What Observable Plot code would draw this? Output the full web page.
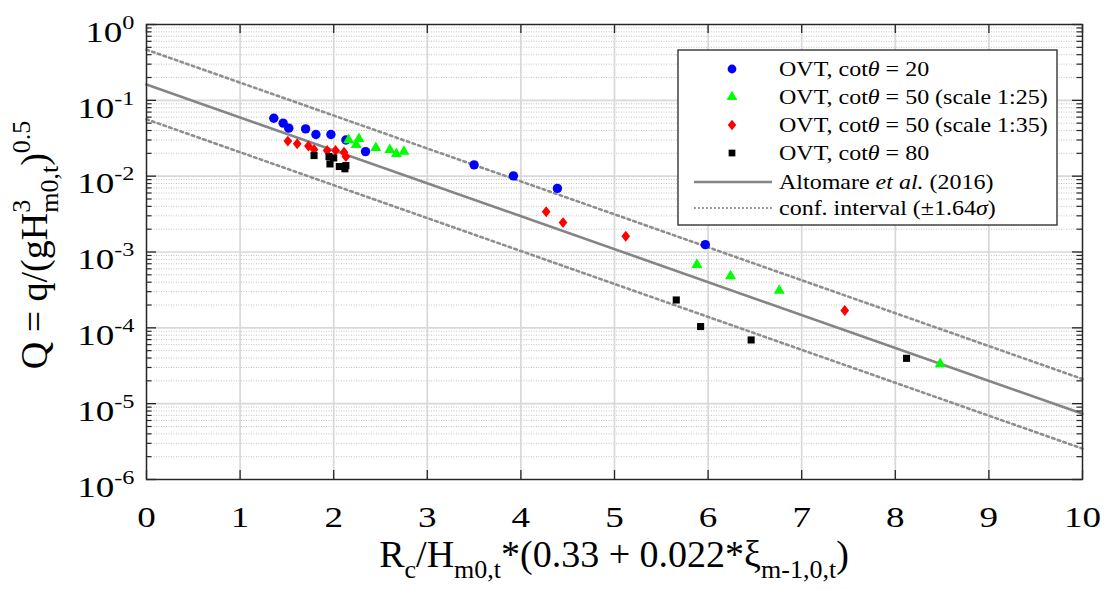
<!DOCTYPE html>
<html>
<head>
<meta charset="utf-8">
<script src="https://cdn.jsdelivr.net/npm/d3@7"></script>
<script src="https://cdn.jsdelivr.net/npm/@observablehq/plot@0.6"></script>
<style>
  html, body { margin: 0; padding: 0; background: #fff; }
  #chart { width: 1104px; height: 590px; }
  #chart svg text { font-family: 'Liberation Serif', 'Times New Roman', serif; }
</style>
</head>
<body>
<div id="chart"></div>
<script>
// ---------- data ----------
const seriesNames = [
  "OVT, cotθ = 20",
  "OVT, cotθ = 50 (scale 1:25)",
  "OVT, cotθ = 50 (scale 1:35)",
  "OVT, cotθ = 80"
];
const seriesColors = ["#0000ff", "#00ff00", "#ff0000", "#000000"];

const cot20X = [1.36, 1.46, 1.52, 1.70, 1.81, 1.97, 2.13, 2.34, 3.50, 3.92, 4.39, 5.97];
const cot20Q = [0.058, 0.050, 0.043, 0.042, 0.0354, 0.0354, 0.030, 0.0211, 0.0141, 0.0101, 0.0069, 0.00125];

const cot50s25X = [2.16, 2.24, 2.27, 2.45, 2.60, 2.67, 2.75, 5.88, 6.24, 6.76, 8.48];
const cot50s25Q = [0.030, 0.026, 0.031, 0.0236, 0.0222, 0.0197, 0.0211, 0.00068, 0.00048, 0.00031, 0.0000334];

const cot50s35X = [1.51, 1.61, 1.73, 1.79, 1.93, 2.02, 2.11, 2.13, 4.27, 4.45, 5.12, 7.46];
const cot50s35Q = [0.029, 0.0267, 0.025, 0.0224, 0.0218, 0.0218, 0.0207, 0.0181, 0.0034, 0.00244, 0.00161, 0.000169];

const cot80X = [1.79, 1.95, 2.00, 1.96, 2.06, 2.12, 2.13, 5.66, 5.92, 6.46, 8.12];
const cot80Q = [0.0187, 0.0181, 0.0174, 0.0145, 0.0134, 0.0125, 0.0138, 0.000233, 0.000104, 0.0000692, 0.0000396];

// Altomare et al. (2016): Q = 10^c * exp(-x), confidence band ±1.64σ (log10 units)
const modelLog10C = -0.791;
const modelCI = 0.459;
const modelX = [0, 10];

const xTicks = [0, 1, 2, 3, 4, 5, 6, 7, 8, 9, 10];
const yExponents = [-6, -5, -4, -3, -2, -1, 0];
const minorMultipliers = [2, 3, 4, 5, 6, 7, 8, 9];

// ---------- layout ----------
const W = 1104, H = 590;
const mL = 146, mR = 22, mT = 24, mB = 111;
const fw = W - mL - mR, fh = H - mT - mB;
const FONT = "'Liberation Serif', 'Times New Roman', serif";
const axisColor = "#262626";
const STRETCH = 1.28;   // the reference's tick lettering is wide

const yMajor = yExponents.map(e => Math.pow(10, e));
const yMinor = yExponents.slice(0, -1).flatMap(e => minorMultipliers.map(m => m * Math.pow(10, e)));

const model = x => Math.pow(10, modelLog10C) * Math.exp(-x);

// MATLAB-like diamond (slightly narrower than tall)
const matlabDiamond = {
  draw(context, size) {
    const h = Math.sqrt(size / 1.6), w = 0.8 * h;
    context.moveTo(0, -h); context.lineTo(w, 0); context.lineTo(0, h); context.lineTo(-w, 0); context.closePath();
  }
};

function dots(xs, qs, symbol, color, r) {
  return Plot.dot(xs, {x: d => d, y: (d, i) => qs[i], symbol, fill: color, r, stroke: "none"});
}

const svg = Plot.plot({
  width: W, height: H,
  marginLeft: mL, marginRight: mR, marginTop: mT, marginBottom: mB,
  x: {domain: [0, 10], axis: null},
  y: {type: "log", domain: [1e-6, 1], axis: null},
  style: {fontFamily: FONT, fontSize: "29px", color: "#000", background: "#fff", overflow: "visible"},
  marks: [
    // grid
    Plot.ruleY(yMinor, {y: d => d, stroke: "#c4c4c4", strokeWidth: 1, strokeDasharray: "1,1.5"}),
    Plot.ruleY(yMajor, {y: d => d, stroke: "#d8d8d8", strokeWidth: 1.7}),
    Plot.ruleX(xTicks, {x: d => d, stroke: "#d8d8d8", strokeWidth: 1.7}),
    // model lines
    Plot.line(modelX, {x: d => d, y: d => model(d) * Math.pow(10, modelCI), stroke: "#8f8f8f", strokeWidth: 2.6, strokeDasharray: "2.6,3.4"}),
    Plot.line(modelX, {x: d => d, y: d => model(d) / Math.pow(10, modelCI), stroke: "#8f8f8f", strokeWidth: 2.6, strokeDasharray: "2.6,3.4"}),
    Plot.line(modelX, {x: d => d, y: d => model(d), stroke: "#858585", strokeWidth: 2.6}),
    // data
    dots(cot20X, cot20Q, "circle", seriesColors[0], 4.7),
    dots(cot50s25X, cot50s25Q, "triangle", seriesColors[1], 4.1),
    dots(cot50s35X, cot50s35Q, matlabDiamond, seriesColors[2], 3.9),
    dots(cot80X, cot80Q, "square", seriesColors[3], 4),
    // frame and inward ticks
    Plot.frame({stroke: axisColor, strokeWidth: 1.4}),
    Plot.tickX(xTicks, {x: d => d, stroke: axisColor, strokeWidth: 1.3, insetTop: fh - 9}),
    Plot.tickX(xTicks, {x: d => d, stroke: axisColor, strokeWidth: 1.3, insetBottom: fh - 9}),
    Plot.tickY(yMajor, {y: d => d, stroke: axisColor, strokeWidth: 1.3, insetRight: fw - 10}),
    Plot.tickY(yMajor, {y: d => d, stroke: axisColor, strokeWidth: 1.3, insetLeft: fw - 10}),
    Plot.tickY(yMinor, {y: d => d, stroke: axisColor, strokeWidth: 1.2, insetRight: fw - 5.5}),
    Plot.tickY(yMinor, {y: d => d, stroke: axisColor, strokeWidth: 1.2, insetLeft: fw - 5.5}),
    // tick labels
    Plot.text(xTicks, {x: d => d, frameAnchor: "bottom", lineAnchor: "top", dy: 27, text: d => String(d),
      fontSize: 29, fontFamily: FONT, fill: "#000"}),
    Plot.text(yExponents, {y: d => Math.pow(10, d), frameAnchor: "left", textAnchor: "end", dx: -12, dy: 8,
      text: d => "10^" + String(d), fontSize: 29, fontFamily: FONT, fill: "#000"})
  ]
});

document.getElementById("chart").appendChild(svg);

const root = d3.select(svg);

// superscripts on y tick labels; widen all tick labels
root.selectAll("text").each(function () {
  const txt = this.textContent;
  const tr = this.getAttribute("transform") || "";
  if (txt.includes("^")) {
    const parts = txt.split("^");
    const t = d3.select(this);
    t.text(null);
    t.append("tspan").text(parts[0]);
    t.append("tspan").attr("dy", -13).attr("font-size", 19).text(parts[1]);
  }
  this.setAttribute("transform", tr + ` scale(${STRETCH},1)`);
});

// axis titles
const xt = root.append("text")
  .attr("transform", "translate(614,567)")
  .attr("text-anchor", "middle")
  .attr("font-family", FONT).attr("font-size", 38).attr("fill", "#000");
xt.append("tspan").text("R");
xt.append("tspan").attr("dy", 11).attr("font-size", 26).text("c");
xt.append("tspan").attr("dy", -11).text("/H");
xt.append("tspan").attr("dy", 11).attr("font-size", 26).text("m0,t");
xt.append("tspan").attr("dy", -11).text("*(0.33 + 0.022*ξ");
xt.append("tspan").attr("dy", 11).attr("font-size", 26).text("m-1,0,t");
xt.append("tspan").attr("dy", -11).text(")");

const yt = root.append("text")
  .attr("transform", "translate(47,245) rotate(-90)")
  .attr("text-anchor", "middle")
  .attr("font-family", FONT).attr("font-size", 38).attr("fill", "#000");
yt.append("tspan").text("Q = q/(gH");
yt.append("tspan").attr("dy", -17).attr("font-size", 26).text("3");
yt.append("tspan").attr("dx", -13).attr("dy", 28).attr("font-size", 26).text("m0,t");
yt.append("tspan").attr("dy", -11).text(")");
yt.append("tspan").attr("dy", -17).attr("font-size", 26).text("0.5");

// legend (inside the axes, top right)
const lg = root.append("g").attr("font-family", FONT).attr("font-size", 20).attr("text-anchor", "start");
lg.append("rect").attr("x", 678).attr("y", 50).attr("width", 379).attr("height", 175)
  .attr("fill", "#fff").attr("stroke", axisColor).attr("stroke-width", 1.3);
const rowsY = [69, 97, 125, 153, 182, 208];
const legSymbols = [d3.symbolCircle, d3.symbolTriangle, matlabDiamond, d3.symbolSquare];
const legSizes = [4.4, 4.0, 3.8, 3.8];
function legendText(y) {
  return lg.append("text").attr("transform", `translate(779,${y}) scale(1.2,1)`)
    .attr("dy", "0.35em").attr("text-anchor", "start").attr("fill", "#000");
}
seriesNames.forEach((name, i) => {
  lg.append("path")
    .attr("d", d3.symbol(legSymbols[i], Math.PI * legSizes[i] * legSizes[i])())
    .attr("transform", `translate(732,${rowsY[i]})`)
    .attr("fill", seriesColors[i]);
  const t = legendText(rowsY[i]);
  const [pre, post] = name.split("θ");
  t.append("tspan").text(pre);
  t.append("tspan").attr("font-style", "italic").text("θ");
  t.append("tspan").text(post);
});
lg.append("line").attr("x1", 694).attr("x2", 772).attr("y1", rowsY[4]).attr("y2", rowsY[4])
  .attr("stroke", "#858585").attr("stroke-width", 2.6);
lg.append("line").attr("x1", 694).attr("x2", 772).attr("y1", rowsY[5]).attr("y2", rowsY[5])
  .attr("stroke", "#8f8f8f").attr("stroke-width", 2.2).attr("stroke-dasharray", "1.8,2.2");
const t5 = legendText(rowsY[4]);
t5.append("tspan").text("Altomare ");
t5.append("tspan").attr("font-style", "italic").text("et al.");
t5.append("tspan").text(" (2016)");
const t6 = legendText(rowsY[5]);
t6.append("tspan").text("conf. interval (±1.64");
t6.append("tspan").attr("font-style", "italic").text("σ");
t6.append("tspan").text(")");
</script>
</body>
</html>
